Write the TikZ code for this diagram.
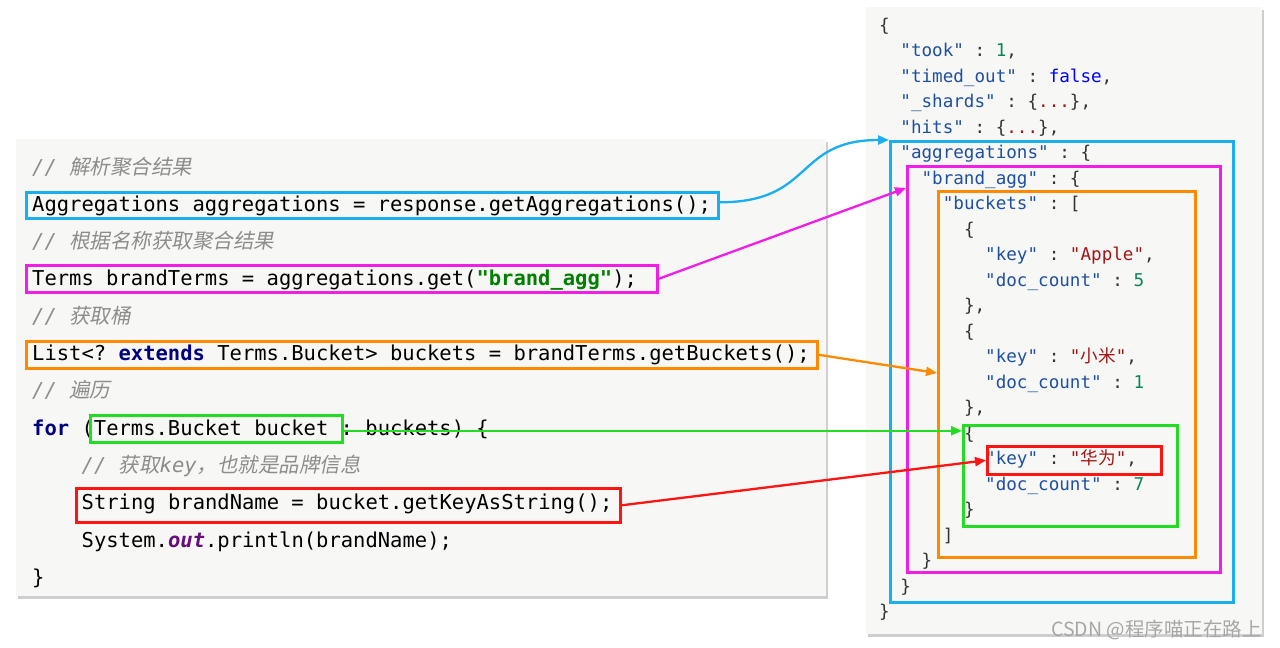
\documentclass[tikz,border=0pt]{standalone}
\usepackage{fontspec}
\setmainfont{DejaVu Sans}
\setmonofont{DejaVu Sans Mono}
\newfontfamily\cjk{Noto Sans CJK SC}
\newfontfamily\cjki[FakeSlant=0.2]{Noto Sans CJK SC}
\usetikzlibrary{arrows.meta,shadows,calc}
\definecolor{panelbg}{HTML}{F7F8F5}
\definecolor{cmtgray}{HTML}{8C8C8C}
\definecolor{kwnavy}{HTML}{000080}
\definecolor{strgreen}{HTML}{008000}
\definecolor{outpurple}{HTML}{660E7A}
\definecolor{jkey}{HTML}{1F4FA0}
\definecolor{jnum}{HTML}{098658}
\definecolor{jbool}{HTML}{0000FF}
\definecolor{jstr}{HTML}{A31515}
\definecolor{jpunct}{HTML}{333333}
\definecolor{cblue}{HTML}{1AAEEE}
\definecolor{cmag}{HTML}{F01EE6}
\definecolor{corange}{HTML}{FF8A00}
\definecolor{cgreen}{HTML}{22DD22}
\definecolor{cred}{HTML}{FF1414}
\newcommand\cmt[1]{{\color{cmtgray}\itshape #1}}
\newcommand\kw[1]{{\color{kwnavy}\bfseries #1}}
\newcommand\jk[1]{{\color{jkey}#1}}
\newcommand\jn[1]{{\color{jnum}#1}}
\newcommand\js[1]{{\color{jstr}#1}}
\newcommand\jdots{\{{\color{jstr}...}\}}
\tikzset{
  panel/.style={fill=panelbg, draw=none, inner sep=0pt, anchor=north west,
    drop shadow={shadow xshift=2pt, shadow yshift=-3pt, opacity=0.35, fill=black!55}},
  code/.style={anchor=base west, inner sep=0pt, text=black,
    font=\fontsize{20.5}{24}\selectfont\ttfamily},
  json/.style={anchor=base west, inner sep=0pt, text=jpunct,
    font=\fontsize{17.6}{21}\selectfont\ttfamily},
  hbox/.style={draw=#1, line width=2.6pt, inner sep=0pt, anchor=north west, fill=none},
  conn/.style={draw=#1, line width=2.3pt, -{Triangle[length=11pt,width=9pt]}},
}
\newcommand\jline[4]{\node[json] (#1) at ({879+10.6*#3},{31.4+25.5*#2}) {#4};}
\begin{document}
\begin{tikzpicture}[x=1pt,y=-1pt]
\useasboundingbox (0,0) rectangle (1280,648);
\fill[white] (0,0) rectangle (1280,648);
% panels
\node[panel, minimum width=810pt, minimum height=457pt] (lp) at (16,139) {};
\node[panel, minimum width=396pt, minimum height=627pt] (rp) at (866,7) {};
% left code
\node[code] (c1) at (32,174) {\cmt{// {\cjki 解析聚合结果}}};
\node[code] (c2) at (32,211.3) {Aggregations aggregations = response.getAggregations();};
\node[code] (c3) at (32,248.6) {\cmt{// {\cjki 根据名称获取聚合结果}}};
\node[code] (c4) at (32,285.9) {Terms brandTerms = aggregations.get({\color{strgreen}\bfseries "brand\_agg"});};
\node[code] (c5) at (32,323.2) {\cmt{// {\cjki 获取桶}}};
\node[code] (c6) at (32,360.5) {List<? \kw{extends} Terms.Bucket> buckets = brandTerms.getBuckets();};
\node[code] (c7) at (32,397.8) {\cmt{// {\cjki 遍历}}};
\node[code] (c8) at (32,435.1) {\kw{for} (Terms.Bucket bucket : buckets) \{};
\node[code] (c9) at (81.5,472.4) {\cmt{// {\cjki 获取}key{\cjki ，也就是品牌信息}}};
\node[code] (c10) at (81.5,509.7) {String brandName = bucket.getKeyAsString();};
\node[code] (c11) at (81.5,547) {System.{\color{outpurple}\bfseries\itshape out}.println(brandName);};
\node[code] (c12) at (32,584.3) {\}};
% right json
\jline{j0}{0}{0}{\{}
\jline{j1}{1}{2}{\jk{"took"} : \jn{1},}
\jline{j2}{2}{2}{\jk{"timed\_out"} : {\color{jbool}false},}
\jline{j3}{3}{2}{\jk{"\_shards"} : \jdots,}
\jline{j4}{4}{2}{\jk{"hits"} : \jdots,}
\jline{j5}{5}{2}{\jk{"aggregations"} : \{}
\jline{j6}{6}{4}{\jk{"brand\_agg"} : \{}
\jline{j7}{7}{6}{\jk{"buckets"} : [}
\jline{j8}{8}{8}{\{}
\jline{j9}{9}{10}{\jk{"key"} : \js{"Apple"},}
\jline{j10}{10}{10}{\jk{"doc\_count"} : \jn{5}}
\jline{j11}{11}{8}{\},}
\jline{j12}{12}{8}{\{}
\jline{j13}{13}{10}{\jk{"key"} : \js{"{\cjk 小米}"},}
\jline{j14}{14}{10}{\jk{"doc\_count"} : \jn{1}}
\jline{j15}{15}{8}{\},}
\jline{j16}{16}{8}{\{}
\jline{j17}{17}{10}{\jk{"key"} : \js{"{\cjk 华为}"},}
\jline{j18}{18}{10}{\jk{"doc\_count"} : \jn{7}}
\jline{j19}{19}{8}{\}}
\jline{j20}{20}{6}{]}
\jline{j21}{21}{4}{\}}
\jline{j22}{22}{2}{\}}
\jline{j23}{23}{0}{\}}
% highlight boxes left
\node[hbox=cblue, minimum width=692pt, minimum height=26pt] (bl) at (25,191) {};
\node[hbox=cmag, minimum width=631pt, minimum height=27pt] (ml) at (25,264) {};
\node[hbox=corange, minimum width=791pt, minimum height=27pt] (ol) at (25,340) {};
\node[hbox=cgreen, minimum width=252pt, minimum height=27pt] (gl) at (89,414) {};
\node[hbox=cred, minimum width=544pt, minimum height=34pt] (rl) at (75,487) {};
% highlight boxes right
\node[hbox=cblue, minimum width=343pt, minimum height=461pt] (br) at (889,140) {};
\node[hbox=cmag, minimum width=313pt, minimum height=406pt] (mr) at (906,165) {};
\node[hbox=corange, minimum width=257pt, minimum height=366pt] (or) at (937,190) {};
\node[hbox=cgreen, minimum width=214pt, minimum height=101pt] (gr) at (962,424) {};
\node[hbox=cred, minimum width=174pt, minimum height=28pt] (rr) at (986,445) {};
% connectors
\draw[conn=cblue] ($(bl.east)+(0,-3)$) to[out=0,in=180,looseness=1.35] (br.north west);
\draw[conn=cmag] (ml.east) -- ($(mr.north west)+(0,23)$);
\draw[conn=corange] (ol.east) -- ($(or.north west)+(0,183)$);
\draw[conn=cgreen] ($(gl.east)+(0,2)$) -- ($(gl.east -| gr.west)+(0,2)$);
\draw[conn=cred] (rl.east) -- (rr.west);
% watermark
\node[anchor=base east, inner sep=0pt, text=black!35, font=\fontsize{19.5}{22}\selectfont\cjk] (wm) at (1262,636) {CSDN @程序喵正在路上};
\end{tikzpicture}
\end{document}
